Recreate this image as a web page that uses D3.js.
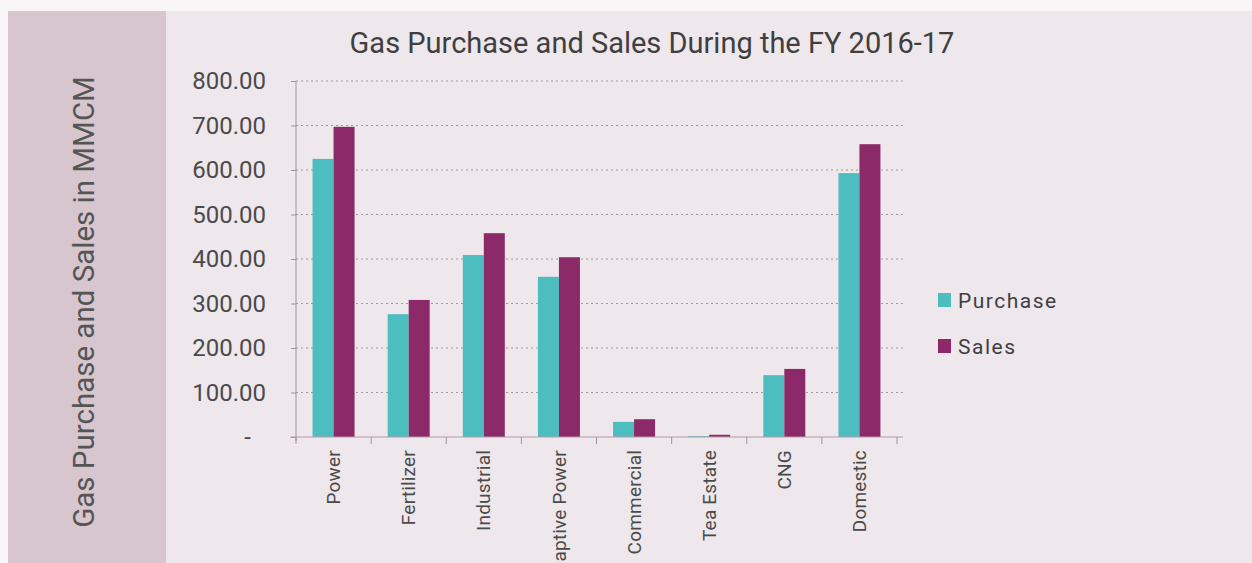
<!DOCTYPE html>
<html lang="en">
<head>
<meta charset="UTF-8" />
<title>Gas Purchase and Sales</title>
<script src="https://cdn.jsdelivr.net/npm/d3@7"></script>
<style>
  body { margin: 0; background: #f8f6f7; }
  svg { display: block; font-family: Roboto, "Noto Sans", sans-serif; }
</style>
</head>
<body>
<div id="chart"></div>
<script>
// data
const categories = ["Power", "Fertilizer", "Industrial", "Captive Power", "Commercial", "Tea Estate", "CNG", "Domestic"];
const purchase = [625, 276, 409, 360, 34, 2, 139, 593];
const sales = [697, 308, 458, 404, 40, 5, 153, 658];
const seriesNames = ["Purchase", "Sales"];
const yTicks = [0, 100, 200, 300, 400, 500, 600, 700, 800];

const colors = ["#4dbec0", "#8c2a69"];

const W = 1252, H = 563;
const svg = d3.select("#chart").append("svg")
  .attr("width", W)
  .attr("height", H);

// backgrounds
svg.append("rect").attr("x", 8).attr("y", 11).attr("width", W - 8).attr("height", H - 11).attr("fill", "#eee7eb");
svg.append("rect").attr("x", 8).attr("y", 11).attr("width", 158).attr("height", H - 11).attr("fill", "#d8c6cf");

const x = d3.scaleBand().domain(categories).range([296, 897]);
const xs = d3.scaleBand().domain(seriesNames).range([0, 42]);
const y = d3.scaleLinear().domain([0, 800]).range([437, 81]);

// gridlines
svg.append("g").selectAll("line")
  .data(yTicks.filter(d => d > 0))
  .enter().append("line")
  .attr("x1", 296).attr("x2", 903)
  .attr("y1", d => y(d)).attr("y2", d => y(d))
  .attr("stroke", "#a09a9d")
  .attr("stroke-width", 1)
  .attr("stroke-dasharray", "2,3");

// y axis
const yAxis = svg.append("g")
  .attr("transform", "translate(296,0)")
  .call(d3.axisLeft(y).tickValues(yTicks).tickSize(5).tickFormat(d => d === 0 ? "-" : d3.format(".2f")(d)));
yAxis.select(".domain").attr("stroke", "#999").attr("d", "M0," + y(800) + "V" + (y(0) + 4));
yAxis.selectAll(".tick line").attr("stroke", "#999");
yAxis.selectAll(".tick text")
  .attr("x", -30)
  .attr("font-size", 24)
  .attr("font-family", "Roboto, sans-serif")
  .attr("fill", "#4a4a4a");
yAxis.selectAll(".tick text").filter(d => d === 0).attr("x", -45);

// bars
const groups = svg.append("g").selectAll("g")
  .data(categories)
  .enter().append("g")
  .attr("transform", d => "translate(" + (x(d) + (x.bandwidth() - 42) / 2) + ",0)");

groups.selectAll("rect")
  .data((d, i) => [purchase[i], sales[i]].map((v, j) => ({ s: seriesNames[j], v: v, j: j })))
  .enter().append("rect")
  .attr("x", d => xs(d.s))
  .attr("width", xs.bandwidth())
  .attr("y", d => y(d.v))
  .attr("height", d => y(0) - y(d.v))
  .attr("fill", d => colors[d.j]);

// x axis
const xAxis = svg.append("g")
  .attr("transform", "translate(0," + y(0) + ")");
xAxis.append("line")
  .attr("x1", 290).attr("x2", 903)
  .attr("stroke", "#b89aab").attr("stroke-width", 1.2);
xAxis.selectAll(".xt")
  .data(d3.range(categories.length + 1))
  .enter().append("line")
  .attr("x1", i => 296 + i * x.step()).attr("x2", i => 296 + i * x.step())
  .attr("y1", 0).attr("y2", 7)
  .attr("stroke", "#999");
xAxis.selectAll("text")
  .data(categories)
  .enter().append("text")
  .attr("transform", d => "translate(" + (x(d) + x.bandwidth() / 2) + ",13) rotate(-90)")
  .attr("text-anchor", "end")
  .attr("dy", "0.35em")
  .attr("font-size", 19)
  .attr("letter-spacing", 0.2)
  .attr("fill", "#4a4a4a")
  .text(d => d);

// title
svg.append("text")
  .attr("x", 652).attr("y", 53)
  .attr("text-anchor", "middle")
  .attr("font-size", 29)
  .attr("fill", "#3f3f3f")
  .text("Gas Purchase and Sales During the FY 2016-17");

// y label
svg.append("text")
  .attr("transform", "translate(94,302) rotate(-90)")
  .attr("text-anchor", "middle")
  .attr("font-size", 29.5)
  .attr("fill", "#555")
  .text("Gas Purchase and Sales in MMCM");

// legend
const legend = svg.append("g").selectAll("g")
  .data(seriesNames)
  .enter().append("g")
  .attr("transform", (d, i) => "translate(938," + (293 + i * 46) + ")");
legend.append("rect")
  .attr("width", 13).attr("height", 14)
  .attr("fill", (d, i) => colors[i]);
legend.append("text")
  .attr("x", 20).attr("y", 15)
  .attr("font-size", 21)
  .attr("letter-spacing", 1.5)
  .attr("fill", "#3f3f3f")
  .text(d => d);
</script>
</body>
</html>
